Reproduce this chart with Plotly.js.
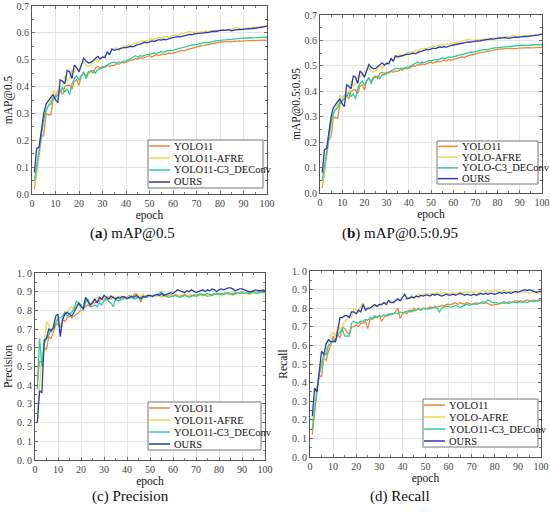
<!DOCTYPE html>
<html>
<head>
<meta charset="utf-8">
<script src="https://cdn.plot.ly/plotly-3.0.1.min.js"></script>
<style>html,body{margin:0;padding:0;background:#fff;}#chart{width:550px;height:516px;}</style>
</head>
<body>
<div id="chart"></div>
<script>
// ---------- DATA ----------
const epochs = Array.from({length: 100}, (_, i) => i + 1);

const labelsA = ["YOLO11", "YOLO11-AFRE", "YOLO11-C3_DEConv", "OURS"];
const labelsB = ["YOLO11", "YOLO-AFRE", "YOLO-C3_DEConv", "OURS"];
const labelsC = ["YOLO11", "YOLO11-AFRE", "YOLO11-C3_DEConv", "OURS"];
const labelsD = ["YOLO11", "YOLO-AFRE", "YOLO11-C3_DEConv", "OURS"];

const captions = ["(<b>a</b>) mAP@0.5", "(<b>b</b>) mAP@0.5:0.95", "(c) Precision", "(d) Recall"];
const yTitles = ["mAP@0.5", "mAP@0.5:0.95", "Precision", "Recall"];
const pctTicks = [0, 0.1, 0.2, 0.3, 0.4, 0.5, 0.6, 0.7, 0.8, 0.9, 1.0];
const pctTickText = ["0. 0", "0. 1", "0. 2", "0. 3", "0. 4", "0. 5", "0. 6", "0. 7", "0. 8", "0. 9", "1. 0"];

// mAP (panels a and b show the same curves)
const yolo11Map = [
0.02,0.08,0.15,0.21,0.22,0.30,0.295,0.295,0.35,0.37,
0.385,0.39,0.37,0.40,0.405,0.405,0.39,0.42,0.425,0.405,
0.44,0.45,0.44,0.455,0.46,0.45,0.47,0.475,0.47,0.475,
0.472,0.478,0.475,0.48,0.478,0.485,0.483,0.49,0.488,0.49,
0.495,0.5,0.498,0.505,0.502,0.508,0.505,0.51,0.512,0.515,
0.51,0.515,0.518,0.516,0.52,0.522,0.52,0.525,0.523,0.525,
0.528,0.53,0.532,0.535,0.533,0.538,0.54,0.542,0.545,0.548,
0.55,0.552,0.553,0.555,0.557,0.558,0.56,0.562,0.564,0.565,
0.566,0.567,0.566,0.568,0.567,0.569,0.568,0.57,0.569,0.57,
0.571,0.57,0.571,0.572,0.571,0.572,0.572,0.573,0.572,0.573];
const afreMap = [
0.03,0.10,0.17,0.23,0.27,0.31,0.33,0.35,0.385,0.375,
0.38,0.39,0.40,0.44,0.42,0.43,0.46,0.455,0.47,0.46,
0.485,0.49,0.48,0.475,0.48,0.49,0.505,0.49,0.505,0.51,
0.515,0.52,0.525,0.535,0.54,0.545,0.535,0.545,0.55,0.552,
0.555,0.552,0.56,0.558,0.565,0.567,0.57,0.568,0.572,0.575,
0.578,0.576,0.58,0.583,0.581,0.585,0.587,0.584,0.588,0.59,
0.592,0.59,0.595,0.597,0.6,0.603,0.606,0.602,0.6,0.603,
0.601,0.604,0.602,0.606,0.605,0.608,0.607,0.61,0.608,0.61,
0.612,0.611,0.613,0.615,0.614,0.618,0.62,0.617,0.615,0.616,
0.617,0.619,0.618,0.62,0.621,0.62,0.622,0.623,0.624,0.625];
const c3Map = [
0.05,0.10,0.16,0.22,0.28,0.31,0.33,0.335,0.36,0.36,
0.37,0.38,0.395,0.38,0.39,0.37,0.41,0.43,0.44,0.425,
0.44,0.455,0.43,0.45,0.455,0.46,0.45,0.465,0.465,0.47,
0.475,0.48,0.485,0.49,0.49,0.488,0.492,0.49,0.495,0.495,
0.5,0.505,0.51,0.515,0.51,0.515,0.513,0.518,0.52,0.52,
0.522,0.525,0.523,0.527,0.53,0.528,0.532,0.535,0.533,0.536,
0.538,0.54,0.542,0.545,0.547,0.55,0.552,0.555,0.554,0.556,
0.558,0.56,0.562,0.565,0.563,0.566,0.568,0.57,0.571,0.572,
0.573,0.574,0.575,0.576,0.575,0.577,0.578,0.579,0.58,0.58,
0.581,0.58,0.582,0.581,0.582,0.583,0.582,0.583,0.584,0.583];
const oursMap = [
0.08,0.17,0.175,0.24,0.30,0.335,0.35,0.36,0.37,0.35,
0.34,0.425,0.42,0.41,0.46,0.455,0.43,0.48,0.47,0.455,
0.48,0.505,0.495,0.488,0.49,0.497,0.505,0.512,0.503,0.51,
0.508,0.53,0.518,0.54,0.535,0.538,0.54,0.542,0.545,0.545,
0.547,0.55,0.548,0.553,0.556,0.558,0.562,0.565,0.563,0.568,
0.57,0.568,0.572,0.575,0.573,0.576,0.574,0.578,0.58,0.582,
0.584,0.586,0.585,0.588,0.59,0.592,0.594,0.593,0.596,0.597,
0.598,0.597,0.6,0.602,0.601,0.604,0.606,0.605,0.607,0.609,
0.61,0.609,0.611,0.61,0.608,0.61,0.612,0.613,0.612,0.614,
0.615,0.616,0.615,0.617,0.618,0.619,0.62,0.621,0.623,0.625];

// Precision
const yolo11P = [
0.42,0.53,0.52,0.60,0.59,0.66,0.65,0.68,0.72,0.73,
0.71,0.75,0.74,0.76,0.77,0.76,0.77,0.78,0.79,0.80,
0.81,0.82,0.83,0.82,0.84,0.84,0.85,0.85,0.86,0.86,
0.865,0.87,0.86,0.87,0.865,0.87,0.875,0.87,0.875,0.87,
0.88,0.87,0.885,0.89,0.88,0.845,0.88,0.875,0.88,0.88,
0.875,0.88,0.885,0.88,0.875,0.88,0.885,0.88,0.885,0.88,
0.885,0.88,0.875,0.88,0.885,0.88,0.875,0.88,0.885,0.88,
0.885,0.89,0.885,0.88,0.875,0.88,0.885,0.89,0.885,0.89,
0.885,0.89,0.895,0.89,0.885,0.89,0.895,0.89,0.895,0.9,
0.895,0.89,0.895,0.9,0.895,0.89,0.895,0.9,0.895,0.895];
const afreP = [
0.25,0.42,0.55,0.62,0.74,0.72,0.68,0.71,0.73,0.75,
0.72,0.76,0.79,0.79,0.81,0.82,0.80,0.83,0.84,0.80,
0.83,0.86,0.84,0.83,0.85,0.86,0.87,0.87,0.86,0.87,
0.875,0.87,0.88,0.875,0.87,0.86,0.875,0.87,0.865,0.87,
0.875,0.88,0.87,0.885,0.88,0.875,0.89,0.87,0.88,0.875,
0.87,0.88,0.875,0.88,0.87,0.875,0.88,0.885,0.88,0.885,
0.88,0.875,0.88,0.885,0.88,0.875,0.88,0.885,0.88,0.875,
0.88,0.885,0.89,0.885,0.88,0.875,0.88,0.885,0.89,0.885,
0.88,0.885,0.89,0.885,0.89,0.88,0.885,0.89,0.895,0.89,
0.895,0.89,0.885,0.89,0.895,0.89,0.895,0.9,0.895,0.895];
const c3P = [
0.38,0.65,0.50,0.62,0.65,0.67,0.70,0.70,0.73,0.76,
0.76,0.77,0.79,0.77,0.78,0.79,0.81,0.85,0.84,0.83,
0.80,0.84,0.86,0.82,0.82,0.83,0.82,0.84,0.83,0.85,
0.86,0.85,0.84,0.82,0.86,0.85,0.855,0.86,0.87,0.86,
0.865,0.87,0.86,0.865,0.87,0.86,0.87,0.875,0.87,0.88,
0.875,0.88,0.885,0.89,0.9,0.88,0.875,0.87,0.875,0.875,
0.88,0.875,0.87,0.875,0.88,0.875,0.87,0.875,0.88,0.875,
0.88,0.885,0.88,0.885,0.89,0.885,0.88,0.885,0.89,0.885,
0.89,0.885,0.89,0.895,0.89,0.885,0.89,0.895,0.89,0.895,
0.89,0.895,0.89,0.895,0.9,0.895,0.89,0.9,0.895,0.9];
const oursP = [
0.20,0.37,0.36,0.64,0.65,0.70,0.69,0.71,0.77,0.78,
0.66,0.75,0.78,0.79,0.78,0.77,0.79,0.82,0.84,0.82,
0.81,0.87,0.85,0.83,0.84,0.86,0.84,0.87,0.86,0.88,
0.87,0.86,0.875,0.87,0.86,0.87,0.865,0.875,0.87,0.865,
0.87,0.875,0.87,0.88,0.87,0.865,0.875,0.87,0.88,0.88,
0.875,0.88,0.885,0.88,0.89,0.88,0.885,0.89,0.895,0.89,
0.9,0.91,0.905,0.9,0.895,0.905,0.9,0.91,0.9,0.895,
0.9,0.905,0.91,0.9,0.91,0.905,0.915,0.91,0.9,0.91,
0.915,0.91,0.915,0.92,0.92,0.915,0.905,0.91,0.915,0.915,
0.91,0.905,0.9,0.9,0.905,0.91,0.905,0.905,0.91,0.905];

// Recall
const yolo11R = [
0.12,0.25,0.36,0.44,0.43,0.53,0.52,0.57,0.60,0.65,
0.62,0.66,0.64,0.70,0.69,0.67,0.66,0.70,0.70,0.71,
0.70,0.72,0.72,0.73,0.69,0.74,0.74,0.75,0.75,0.76,
0.73,0.75,0.76,0.76,0.77,0.77,0.78,0.80,0.745,0.77,
0.78,0.77,0.79,0.78,0.80,0.79,0.80,0.79,0.80,0.80,
0.795,0.81,0.80,0.81,0.805,0.81,0.815,0.81,0.82,0.82,
0.82,0.825,0.83,0.82,0.83,0.825,0.82,0.83,0.825,0.82,
0.825,0.83,0.825,0.83,0.835,0.83,0.825,0.82,0.815,0.82,
0.82,0.825,0.83,0.825,0.83,0.835,0.83,0.835,0.84,0.835,
0.84,0.835,0.84,0.845,0.84,0.84,0.845,0.84,0.845,0.845];
const afreR = [
0.15,0.30,0.38,0.46,0.52,0.52,0.58,0.60,0.66,0.67,
0.65,0.70,0.69,0.70,0.73,0.74,0.76,0.75,0.80,0.79,
0.78,0.81,0.83,0.79,0.79,0.80,0.80,0.81,0.81,0.82,
0.82,0.83,0.83,0.84,0.84,0.83,0.84,0.85,0.84,0.85,
0.845,0.86,0.85,0.87,0.86,0.87,0.875,0.865,0.875,0.88,
0.87,0.88,0.875,0.88,0.885,0.875,0.88,0.885,0.88,0.875,
0.88,0.885,0.88,0.885,0.89,0.88,0.885,0.89,0.885,0.89,
0.885,0.89,0.885,0.89,0.895,0.89,0.885,0.895,0.89,0.895,
0.89,0.885,0.89,0.895,0.89,0.885,0.89,0.89,0.885,0.89,
0.89,0.885,0.89,0.885,0.88,0.885,0.89,0.885,0.88,0.885];
const c3R = [
0.15,0.26,0.35,0.44,0.50,0.55,0.55,0.60,0.61,0.63,
0.62,0.66,0.67,0.69,0.65,0.65,0.65,0.72,0.73,0.72,
0.72,0.73,0.73,0.74,0.735,0.75,0.745,0.76,0.75,0.76,
0.755,0.765,0.76,0.77,0.765,0.77,0.775,0.77,0.78,0.775,
0.78,0.785,0.78,0.79,0.785,0.79,0.795,0.79,0.80,0.795,
0.80,0.795,0.80,0.805,0.80,0.78,0.80,0.805,0.81,0.81,
0.805,0.81,0.815,0.81,0.805,0.81,0.815,0.82,0.815,0.82,
0.825,0.82,0.825,0.83,0.825,0.83,0.845,0.835,0.83,0.83,
0.83,0.825,0.83,0.835,0.83,0.825,0.83,0.835,0.83,0.83,
0.835,0.83,0.835,0.83,0.835,0.84,0.835,0.84,0.84,0.845];
const oursR = [
0.22,0.37,0.35,0.45,0.57,0.55,0.61,0.63,0.62,0.62,
0.62,0.68,0.75,0.75,0.76,0.76,0.75,0.78,0.78,0.77,
0.79,0.78,0.82,0.79,0.80,0.80,0.81,0.82,0.81,0.82,
0.82,0.83,0.82,0.84,0.83,0.83,0.84,0.85,0.84,0.86,
0.875,0.85,0.855,0.86,0.855,0.865,0.86,0.87,0.865,0.87,
0.87,0.865,0.875,0.87,0.875,0.87,0.865,0.87,0.875,0.87,
0.87,0.875,0.87,0.875,0.88,0.875,0.87,0.875,0.87,0.87,
0.875,0.87,0.875,0.88,0.875,0.88,0.875,0.88,0.88,0.875,
0.88,0.885,0.88,0.885,0.88,0.885,0.88,0.885,0.89,0.885,
0.89,0.895,0.9,0.895,0.9,0.895,0.89,0.885,0.89,0.89];

// ---------- STYLE / LAYOUT ----------
const colors = ["#E8893B", "#E6DA55", "#2FCB9C", "#2B3BB3"];
const W = 550, H = 516;
const px = x => x / W;
const py = y => 1 - y / H;
const SERIF = "Liberation Serif";

const panels = [
  {series: [yolo11Map, afreMap, c3Map, oursMap], labels: labelsA, box: [32, 6, 267, 194], yMax: 0.7, pct: false,
   leg: {box: [148, 140, 263, 188], line: [149, 170], text: 172}, cap: [132, 233]},
  {series: [yolo11Map, afreMap, c3Map, oursMap], labels: labelsB, box: [320, 15, 542, 193], yMax: 0.7, pct: false,
   leg: {box: [437, 141, 538, 184], line: [438, 458], text: 460}, cap: [400, 233]},
  {series: [yolo11P, afreP, c3P, oursP], labels: labelsC, box: [35, 273, 265, 460], yMax: 1.0, pct: true,
   leg: {box: [148, 402, 261, 450], line: [149, 170], text: 172}, cap: [130, 496]},
  {series: [yolo11R, afreR, c3R, oursR], labels: labelsD, box: [310, 271, 541, 457], yMax: 1.0, pct: true,
   leg: {box: [423, 399, 538, 447], line: [424, 445], text: 447}, cap: [400, 496]}
];

const traces = [];
const layout = {
  width: W, height: H, margin: {l: 0, r: 0, t: 0, b: 0},
  paper_bgcolor: "#fff", plot_bgcolor: "#fff", showlegend: false,
  font: {family: SERIF, size: 10, color: "#333"},
  shapes: [], annotations: []
};

panels.forEach((p, i) => {
  const n = i === 0 ? "" : String(i + 1);
  const xName = "x" + n, yName = "y" + n;
  p.series.forEach((s, k) => {
    traces.push({x: epochs, y: s, type: "scatter", mode: "lines", name: p.labels[k],
      xaxis: xName, yaxis: yName, line: {color: colors[k], width: 1.3}, hoverinfo: "skip"});
  });
  const [x0, y0, x1, y1] = p.box;
  const common = {
    ticks: "inside", ticklen: 3, tickcolor: "#555", tickwidth: 0.8,
    showline: true, linecolor: "#555", linewidth: 1, mirror: "allticks",
    showgrid: true, gridcolor: "#e4e4e4", gridwidth: 1, zeroline: false,
    tickfont: {family: SERIF, size: 10, color: "#444"}, fixedrange: true
  };
  layout["xaxis" + n] = Object.assign({}, common, {
    domain: [px(x0), px(x1)], anchor: yName, range: [0, 100], tick0: 0, dtick: 10,
    minor: {ticks: "inside", ticklen: 2, dtick: 5, tick0: 0, tickcolor: "#555", showgrid: false},
    title: {text: "epoch", font: {family: SERIF, size: 11.5, color: "#111"}, standoff: 2}
  });
  const ya = Object.assign({}, common, {
    domain: [py(y1), py(y0)], anchor: xName, range: [0, p.yMax],
    minor: {ticks: "inside", ticklen: 2, dtick: 0.05, tick0: 0, tickcolor: "#555", showgrid: false},
    title: {text: yTitles[i], font: {family: SERIF, size: 11.5, color: "#111"}, standoff: 1}
  });
  if (p.pct) { ya.tickvals = pctTicks; ya.ticktext = pctTickText; }
  else { ya.tick0 = 0; ya.dtick = 0.1; ya.tickformat = ".1f"; }
  layout["yaxis" + n] = ya;

  // legend box drawn in paper space
  const L = p.leg;
  layout.shapes.push({type: "rect", xref: "paper", yref: "paper",
    x0: px(L.box[0]), x1: px(L.box[2]), y0: py(L.box[3]), y1: py(L.box[1]),
    line: {color: "#777", width: 1}, fillcolor: "#fff", layer: "above"});
  const rowH = (L.box[3] - L.box[1]) / 4;
  p.labels.forEach((lab, k) => {
    const ry = L.box[1] + rowH * (k + 0.5);
    layout.shapes.push({type: "line", xref: "paper", yref: "paper",
      x0: px(L.line[0]), x1: px(L.line[1]), y0: py(ry), y1: py(ry),
      line: {color: colors[k], width: 1.5}, layer: "above"});
    layout.annotations.push({xref: "paper", yref: "paper", x: px(L.text), y: py(ry),
      xanchor: "left", yanchor: "middle", showarrow: false, text: lab,
      font: {family: SERIF, size: 10.5, color: "#111"}});
  });
  layout.annotations.push({xref: "paper", yref: "paper", x: px(p.cap[0]), y: py(p.cap[1]),
    xanchor: "center", yanchor: "middle", showarrow: false, text: captions[i],
    font: {family: SERIF, size: 15, color: "#111"}});
});

Plotly.newPlot("chart", traces, layout, {staticPlot: true, displayModeBar: false});
</script>
</body>
</html>
